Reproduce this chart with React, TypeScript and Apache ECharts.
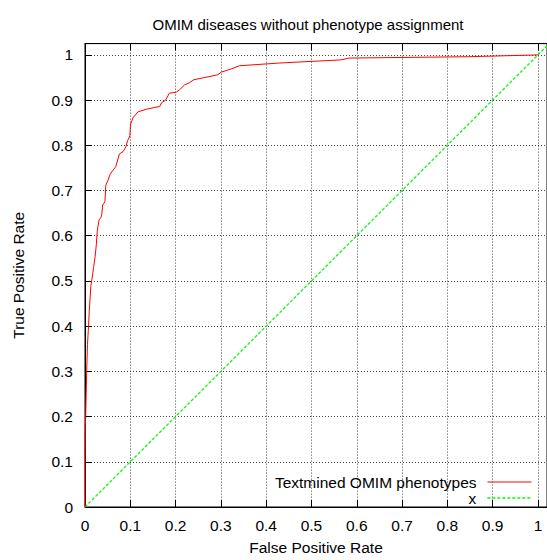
import React, { useEffect, useRef } from "react";
import * as echarts from "echarts";

const chartTitle = "OMIM diseases without phenotype assignment";
const seriesNames = ["Textmined OMIM phenotypes", "x"];
const fpr = [
  0, 0, 0.0005, 0.0015, 0.0037, 0.0055, 0.0073, 0.0095, 0.013, 0.0155, 0.019, 0.022, 0.025, 0.027,
  0.031, 0.035, 0.037, 0.039, 0.044, 0.046, 0.051, 0.055, 0.059, 0.068, 0.076, 0.084, 0.09, 0.094,
  0.099, 0.1005, 0.106, 0.117, 0.136, 0.165, 0.169, 0.178, 0.186, 0.202, 0.209, 0.22, 0.23, 0.24,
  0.293, 0.301, 0.323, 0.341, 0.429, 0.565, 0.583, 0.847, 1.0,
];
const tpr = [
  0, 0.1, 0.18, 0.2, 0.3, 0.36, 0.39, 0.435, 0.49, 0.505, 0.53, 0.551, 0.58, 0.61,
  0.635, 0.64, 0.646, 0.668, 0.675, 0.712, 0.723, 0.735, 0.741, 0.753, 0.781, 0.786, 0.796, 0.81,
  0.821, 0.847, 0.861, 0.874, 0.88, 0.886, 0.894, 0.9, 0.915, 0.918, 0.923, 0.934, 0.938, 0.945,
  0.956, 0.962, 0.969, 0.976, 0.982, 0.989, 0.993, 0.996, 1.0,
];
const diagX = [0, 1.03];
const xMax = 1.02;
const yMax = 1.025;

const FONT = "Liberation Sans, Arial, sans-serif";
const FS = 15;
const FS2 = 15.5;

export default function App() {
  const ref = useRef<HTMLDivElement>(null);
  useEffect(() => {
    if (!ref.current) return;
    const chart = echarts.init(ref.current, undefined, { renderer: "svg" });
    const gridLine = { show: true, lineStyle: { color: "#444", width: 1, type: [1, 2] as any } };
    const axisLine = { show: true, lineStyle: { color: "#000", width: 1 } };
    const tick = { show: true, inside: true, length: 7, lineStyle: { color: "#000" } };
    const legendBase = {
      right: 15,
      align: "right",
      padding: 0,
      itemWidth: 44,
      itemHeight: 14,
      itemStyle: { opacity: 0 },
      textStyle: { fontFamily: FONT, fontSize: FS2, color: "#000", padding: [0, 6, 0, 0] },
    };
    chart.setOption({
      animation: false,
      title: {
        text: chartTitle,
        left: 303,
        textAlign: "center",
        top: 12,
        textStyle: { fontFamily: FONT, fontSize: FS, fontWeight: "normal", color: "#000" },
      },
      grid: { left: 85, top: 43.6, width: 463.6, height: 468.4, show: true, borderColor: "#000", borderWidth: 1 },
      legend: [
        {
          ...legendBase,
          data: [seriesNames[0]],
          top: 474,
          lineStyle: { color: "#ff0000", width: 1 },
        },
        {
          ...legendBase,
          data: [seriesNames[1]],
          top: 490,
          lineStyle: { color: "#00ff00", width: 1.3, type: [3, 2] },
        },
      ],
      xAxis: [
        {
          type: "value",
          min: 0,
          max: xMax,
          interval: 0.1,
          name: "False Positive Rate",
          nameLocation: "middle",
          nameGap: 32,
          nameTextStyle: { fontFamily: FONT, fontSize: FS2, color: "#000" },
          axisLine,
          axisTick: tick,
          splitLine: gridLine,
          axisLabel: { fontFamily: FONT, fontSize: FS2, color: "#000", margin: 10, showMaxLabel: false },
        },
        {
          type: "value",
          position: "top",
          min: 0,
          max: xMax,
          interval: 0.1,
          axisLine,
          axisTick: tick,
          splitLine: { show: false },
          axisLabel: { show: false },
        },
      ],
      yAxis: {
        type: "value",
        min: 0,
        max: yMax,
        interval: 0.1,
        name: "True Positive Rate",
        nameLocation: "middle",
        nameGap: 59,
        nameTextStyle: { fontFamily: FONT, fontSize: FS2, color: "#000" },
        axisLine,
        axisTick: tick,
        splitLine: gridLine,
        axisLabel: { fontFamily: FONT, fontSize: FS2, color: "#000", margin: 12, showMaxLabel: false },
      },
      series: [
        {
          name: seriesNames[0],
          type: "line",
          data: fpr.map((v, i) => [v, tpr[i]]),
          symbol: "none",
          lineStyle: { color: "#ff0000", width: 1 },
          itemStyle: { color: "#ff0000" },
          z: 3,
        },
        {
          name: seriesNames[1],
          type: "line",
          data: diagX.map((v) => [v, v]),
          symbol: "none",
          lineStyle: { color: "#00ff00", width: 1.3, type: [3, 2] },
          itemStyle: { color: "#00ff00" },
          z: 2,
        },
      ],
    });
    return () => chart.dispose();
  }, []);
  return <div ref={ref} style={{ position: "absolute", left: 0, top: 0, width: 547, height: 560 }} />;
}
